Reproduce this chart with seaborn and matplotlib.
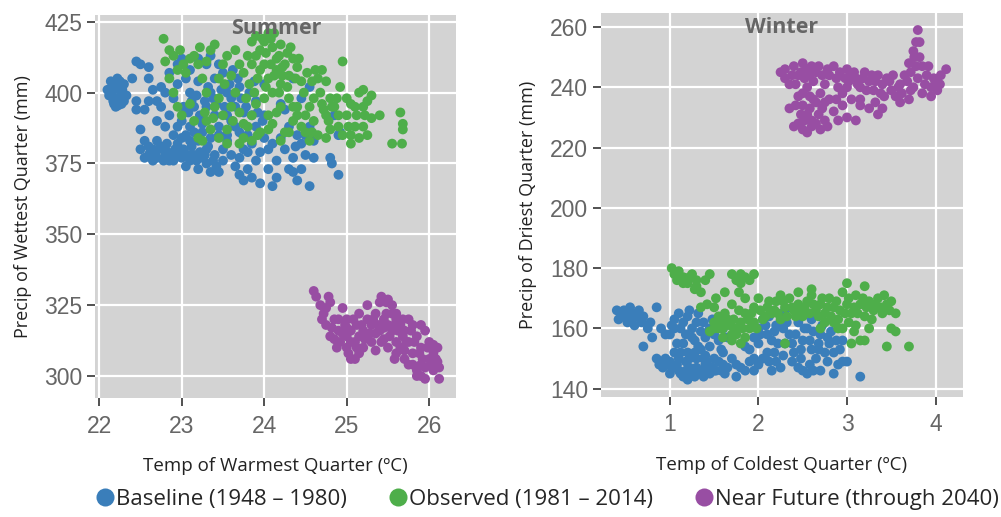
import seaborn as sns
import matplotlib.pyplot as plt
from matplotlib.lines import Line2D
import pandas as pd

series_names = ["Baseline (1948 – 1980)", "Observed (1981 – 2014)", "Near Future (through 2040)"]
series_colors = ["#3A7EBA", "#4EAE4A", "#984EA3"]

# summer: (temp of warmest quarter, precip of wettest quarter)
summer_baseline = [
    (22.15, 400), (22.2, 403), (22.25, 398), (22.18, 396), (22.22, 405), (22.28, 401), (22.12, 399),
    (22.3, 397), (22.2, 395), (22.25, 404), (22.16, 402), (22.27, 396),
    (22.1, 401), (22.14, 404), (22.2, 398), (22.24, 401), (22.3, 403), (22.17, 397), (22.23, 395.5), (22.33, 399),
    (22.4, 405), (22.45, 411), (22.5, 410), (22.45, 397), (22.45, 394), (22.5, 387), (22.6, 409),
    (22.6, 405), (22.65, 401), (22.55, 394), (22.6, 397), (22.55, 383), (22.5, 380), (22.6, 381), (22.55, 377),
    (22.6, 378), (22.65, 380), (22.7, 377), (22.75, 381), (22.8, 378), (22.85, 376), (22.9, 379),
    (22.95, 382), (22.7, 383), (22.8, 380), (22.65, 376), (22.9, 376), (23.0, 377), (23.05, 374),
    (23.1, 376), (23.15, 378), (23.2, 373), (23.25, 377), (23.3, 375), (23.35, 372),
    (22.62, 379), (22.68, 378), (22.72, 380), (22.78, 376), (22.82, 382), (22.88, 378), (22.92, 380),
    (22.98, 378), (23.02, 380), (23.08, 378), (23.12, 381), (23.18, 376), (23.22, 379), (23.28, 378),
    (23.32, 381), (23.38, 376), (23.42, 374), (23.45, 372),
    (22.8, 388), (22.85, 392), (22.9, 398), (22.95, 403), (22.85, 407), (22.95, 410), (23.0, 412),
    (23.05, 405), (23.1, 400), (23.0, 390), (23.05, 385), (23.1, 388), (23.15, 395), (23.2, 383),
    (23.25, 389), (23.3, 395), (23.35, 400), (23.4, 405), (23.45, 410), (23.5, 407), (23.4, 392),
    (23.45, 385), (23.5, 380), (23.3, 380), (23.4, 378), (23.5, 376), (23.55, 383), (23.6, 390),
    (23.65, 395), (23.7, 402), (23.6, 398), (23.55, 392), (23.6, 378), (23.65, 374), (23.7, 371),
    (23.75, 369), (23.8, 373), (23.85, 370), (23.9, 376), (23.95, 368), (24.1, 367), (24.15, 370),
    (23.02, 395), (23.08, 393), (23.12, 397), (23.18, 399), (23.22, 392), (23.28, 397), (23.32, 402),
    (23.38, 398), (23.42, 396), (23.48, 401), (23.52, 395), (23.58, 403), (23.62, 408), (23.68, 405),
    (23.72, 398), (23.78, 395), (23.82, 400), (23.88, 404), (23.92, 393), (23.98, 390), (23.1, 383),
    (23.15, 386), (23.25, 386), (23.35, 384), (23.45, 388), (23.55, 385), (23.65, 388), (23.75, 380),
    (23.85, 382), (23.95, 379), (24.0, 384), (24.1, 382), (22.7, 390), (22.75, 395), (22.8, 400),
    (22.75, 402), (22.7, 397), (22.9, 385), (22.95, 388), (23.0, 384),
    (23.8, 385), (23.85, 392), (23.9, 388), (24.0, 392), (24.05, 380), (24.2, 384), (24.3, 388),
    (24.35, 377), (24.3, 373), (24.35, 372), (24.4, 369), (24.45, 373), (24.5, 378), (24.55, 367),
    (24.5, 385), (24.55, 388), (24.45, 382), (24.6, 383), (24.35, 405), (24.45, 398), (24.55, 402),
    (24.25, 394), (24.2, 396), (24.0, 403), (23.9, 397), (24.8, 377), (24.82, 375), (24.9, 371),
    (24.9, 385), (24.92, 386), (24.85, 392), (23.2, 412), (23.3, 410), (23.35, 413), (23.1, 408),
    (23.2, 404), (23.55, 400), (23.75, 393), (23.7, 386),
    (24.25, 380), (24.4, 385), (24.38, 381), (24.6, 377), (24.15, 376), (24.05, 373), (23.7, 377), (23.8, 379),
]
summer_observed = [
    (22.78, 419), (22.85, 415), (22.8, 411), (22.9, 413), (22.95, 408), (22.85, 405), (22.9, 400),
    (22.95, 395), (23.0, 392), (23.05, 407), (23.1, 412), (23.15, 413), (23.2, 410), (23.25, 405),
    (23.3, 400), (23.35, 415), (23.4, 417), (23.3, 411),
    (23.2, 384), (23.25, 383), (23.3, 390), (23.35, 387), (23.4, 395), (23.45, 398), (23.5, 392),
    (23.55, 387), (23.6, 395), (23.65, 400), (23.7, 382), (23.75, 384), (23.8, 388), (23.85, 392),
    (23.9, 396), (23.5, 410), (23.55, 413), (23.6, 406), (23.65, 415), (23.7, 410), (23.75, 407),
    (23.8, 413), (23.85, 418), (23.9, 420), (23.95, 415),
    (24.0, 418), (24.05, 421), (24.1, 416), (24.15, 412), (24.2, 417), (24.0, 410), (24.05, 405),
    (24.1, 400), (24.15, 408), (24.2, 403), (24.25, 410), (24.3, 406), (24.35, 412), (24.4, 409),
    (24.45, 404), (24.0, 398), (24.05, 392), (23.95, 386), (24.1, 389), (24.2, 395), (24.3, 398),
    (24.4, 395), (24.35, 390), (24.3, 386), (24.5, 392), (24.55, 395), (24.6, 398), (24.65, 405),
    (24.7, 408), (24.75, 404), (24.8, 398), (24.85, 395), (24.9, 392), (24.95, 411), (24.7, 396),
    (24.75, 392), (24.6, 390), (24.5, 386), (24.55, 383), (24.65, 385), (24.75, 384), (24.8, 387),
    (23.85, 410), (23.9, 413), (23.95, 408), (23.98, 419), (24.02, 414), (24.08, 419), (24.12, 421),
    (24.18, 413), (24.22, 409), (24.28, 414), (24.32, 416), (24.38, 405), (24.42, 412), (24.08, 410),
    (24.12, 406), (24.18, 400), (24.22, 406), (24.28, 402), (24.02, 402), (23.92, 405), (23.88, 400),
    (23.82, 403), (23.78, 398), (24.48, 400), (24.52, 407), (24.58, 404), (24.62, 408), (24.68, 400),
    (24.72, 394), (24.78, 390), (24.82, 395), (24.88, 398), (24.92, 402), (24.58, 386), (24.45, 388),
    (24.4, 392), (24.35, 395), (24.15, 393), (24.05, 387), (23.92, 385), (23.85, 383), (23.75, 389),
    (23.7, 393), (23.62, 390), (23.55, 382), (23.45, 384), (23.38, 391), (23.28, 393), (23.15, 390),
    (23.1, 396), (22.98, 415), (23.02, 410), (23.22, 416), (23.45, 405), (23.52, 403),
    (24.9, 388), (25.0, 398), (25.05, 396), (25.0, 392), (25.05, 385), (25.05, 382), (25.1, 388),
    (25.15, 384), (25.2, 388), (25.2, 395), (25.15, 400), (25.2, 401), (25.3, 399), (25.25, 385),
    (25.3, 391), (25.4, 392), (25.65, 393), (25.68, 389), (25.68, 387), (25.55, 382), (25.67, 382),
    (24.2, 383), (24.25, 386), (25.1, 395), (25.12, 392), (25.22, 392), (25.25, 397), (25.02, 388),
    (24.95, 385),
]
summer_future = [
    (24.6, 330), (24.63, 328), (24.68, 325), (24.72, 322), (24.78, 328), (24.8, 326), (24.75, 318),
    (24.8, 314), (24.85, 320), (24.9, 316), (24.92, 312), (24.95, 324), (24.98, 318), (25.0, 314),
    (25.0, 310), (25.05, 316), (25.1, 312), (25.1, 306), (25.12, 318), (25.15, 314), (25.2, 316),
    (25.2, 310), (25.25, 320), (25.3, 318), (25.3, 312), (25.35, 322), (25.4, 326), (25.4, 316),
    (25.42, 328), (25.45, 320), (25.45, 313), (25.5, 327), (25.5, 318), (25.5, 310), (25.55, 322),
    (25.55, 316), (25.58, 306), (25.6, 320), (25.6, 312), (25.65, 318), (25.65, 310), (25.7, 316),
    (25.7, 306), (25.75, 320), (25.75, 312), (25.75, 304), (25.8, 318), (25.8, 308), (25.85, 314),
    (25.85, 302), (25.9, 318), (25.9, 310), (25.9, 304), (25.95, 316), (25.95, 299), (26.0, 312),
    (26.0, 306), (26.05, 308), (26.05, 302), (26.1, 310), (26.12, 303), (26.12, 299), (25.85, 300),
    (25.0, 320), (25.25, 325), (25.35, 309), (25.15, 322), (24.88, 310),
    (24.7, 320), (24.75, 324), (24.82, 317), (24.85, 313), (24.9, 320), (24.95, 315), (25.0, 317),
    (25.05, 312), (25.08, 320), (25.12, 310), (25.18, 318), (25.22, 313), (25.28, 315), (25.32, 320),
    (25.38, 318), (25.42, 312), (25.48, 322), (25.52, 314), (25.58, 318), (25.62, 316), (25.68, 320),
    (25.72, 312), (25.78, 316), (25.82, 312), (25.88, 308), (25.92, 306), (25.98, 310), (26.02, 304),
    (26.08, 306), (25.95, 303), (25.9, 300), (25.8, 304), (25.7, 309), (25.6, 308), (25.45, 317),
    (25.35, 315), (25.55, 325), (25.48, 326), (25.6, 322), (25.68, 314), (26.1, 305), (26.05, 311),
    (25.02, 308), (25.05, 306), (25.15, 308),
]

# winter: (temp of coldest quarter, precip of driest quarter)
winter_baseline = [
    (0.4, 166), (0.45, 164), (0.5, 165), (0.55, 163), (0.6, 161), (0.65, 166), (0.55, 167), (0.7, 164),
    (0.75, 160), (0.8, 157), (0.85, 167), (0.7, 154), (0.9, 160), (0.95, 158), (0.85, 150), (0.9, 149),
    (0.95, 150), (0.42, 163), (0.48, 166), (0.52, 162), (0.58, 165), (0.62, 164), (0.68, 162), (0.78, 162),
    (1.0, 149), (1.05, 147), (1.1, 146), (1.15, 144), (1.2, 143), (1.25, 145), (1.3, 147), (1.35, 146),
    (1.4, 148), (1.45, 145), (1.5, 146), (1.0, 145), (1.1, 150), (1.2, 152), (1.3, 150), (1.05, 152),
    (1.15, 155), (1.25, 157), (1.35, 153), (1.4, 151), (1.45, 154), (1.5, 150), (1.55, 149), (1.6, 148),
    (1.65, 147), (0.88, 148), (0.92, 147), (0.98, 148), (1.02, 147), (1.08, 148), (1.12, 145), (1.18, 146),
    (1.22, 147), (1.28, 144), (1.32, 145), (1.38, 144), (1.42, 146), (1.48, 147), (1.52, 146), (1.58, 146),
    (1.62, 145), (1.12, 152), (1.18, 149), (1.22, 150), (1.28, 152), (1.32, 154), (1.38, 150), (1.42, 149),
    (1.0, 158), (1.05, 160), (1.05, 163), (1.1, 165), (1.15, 162), (1.2, 164), (1.25, 160), (1.3, 162),
    (1.35, 159), (1.4, 157), (1.45, 160), (1.5, 158), (1.55, 156), (1.6, 152),
    (1.08, 155), (1.02, 161), (1.12, 160), (1.18, 158), (1.22, 166), (1.28, 156), (1.32, 165), (1.38, 162),
    (1.48, 163), (1.55, 163), (1.6, 160), (1.65, 157), (1.58, 153),
    (1.7, 150), (1.75, 144), (1.8, 147), (1.85, 154), (1.9, 149), (1.95, 146), (2.0, 155), (2.0, 160),
    (2.05, 163), (2.1, 158), (2.1, 152), (2.15, 156), (2.2, 161), (2.2, 149), (2.25, 164), (2.3, 166),
    (2.3, 155), (2.35, 158), (2.4, 152), (2.45, 162), (2.45, 147), (2.5, 156), (2.5, 146), (2.55, 160),
    (2.6, 153), (2.6, 163), (2.65, 150), (2.7, 158), (2.7, 146), (2.75, 152), (2.8, 155), (2.85, 152),
    (2.9, 148), (2.85, 145), (2.95, 149), (2.95, 156), (3.15, 144), (2.05, 150), (1.95, 157), (2.15, 146),
    (2.02, 158), (2.08, 161), (2.12, 164), (2.18, 159), (2.22, 155), (2.28, 160), (2.32, 162), (2.38, 155),
    (2.42, 158), (2.48, 153), (2.52, 160), (2.58, 156), (2.62, 159), (2.68, 155), (2.72, 161), (2.78, 157),
    (2.82, 159), (2.88, 156), (2.92, 153), (2.18, 152), (2.28, 151), (2.38, 149), (2.48, 150), (2.58, 148),
    (2.68, 153), (2.78, 149), (2.25, 147), (2.12, 149), (2.0, 148), (1.9, 153), (1.85, 146), (1.75, 148),
    (1.95, 150), (2.62, 146), (2.55, 145), (3.0, 149),
]
winter_observed = [
    (1.02, 180), (1.05, 178), (1.08, 176), (1.1, 179), (1.15, 177), (1.2, 175), (1.25, 178), (1.3, 174),
    (1.35, 172), (1.4, 176), (1.45, 178), (1.35, 167), (1.42, 168), (1.3, 176), (1.22, 177), (1.15, 175),
    (1.28, 173),
    (1.7, 178), (1.75, 176), (1.8, 175), (1.85, 177), (1.9, 176), (1.95, 178), (1.8, 178),
    (1.45, 159), (1.5, 162), (1.55, 164), (1.6, 160), (1.65, 163), (1.7, 168), (1.75, 158), (1.8, 162),
    (1.85, 165), (1.9, 160), (1.95, 167), (2.0, 170), (2.05, 163), (2.1, 167), (2.15, 165), (2.2, 169),
    (2.25, 163), (2.3, 167), (2.35, 170), (2.4, 166), (2.45, 168), (2.5, 164), (2.55, 169), (2.6, 173),
    (2.65, 166), (2.7, 168), (2.75, 165), (2.8, 170), (2.85, 167), (2.9, 163), (2.95, 172), (3.0, 175),
    (3.0, 168), (3.05, 165), (3.1, 161), (3.1, 171), (3.15, 168), (3.2, 174), (3.2, 164), (3.25, 169),
    (3.3, 166), (3.35, 170), (3.4, 165), (3.45, 168), (3.5, 169), (3.55, 165), (3.55, 159), (3.5, 160),
    (3.45, 154), (3.7, 154), (3.2, 156), (3.15, 156), (3.05, 155), (2.9, 160), (2.7, 160), (1.7, 156),
    (1.8, 155), (1.6, 157), (1.55, 160), (2.3, 155), (1.95, 162), (2.45, 172), (1.5, 167), (1.85, 170),
    (1.5, 160), (1.58, 162), (1.62, 165), (1.68, 161), (1.72, 163), (1.78, 166), (1.82, 160), (1.88, 163),
    (1.92, 165), (1.98, 160), (2.02, 166), (2.08, 164), (2.12, 169), (2.18, 166), (2.22, 165), (2.28, 169),
    (2.32, 164), (2.38, 167), (2.42, 164), (2.48, 166), (2.52, 167), (2.58, 165), (2.62, 168), (2.68, 164),
    (2.72, 170), (2.78, 167), (2.82, 164), (2.88, 169), (2.92, 166), (2.98, 165), (3.02, 170), (3.08, 167),
    (3.12, 165), (3.18, 170), (3.22, 167), (3.28, 163), (3.32, 168), (3.38, 167), (3.42, 171), (3.48, 166),
    (3.02, 162), (2.95, 160), (3.08, 159), (2.85, 162), (2.75, 162), (1.7, 158), (1.85, 157), (1.75, 160),
    (1.62, 172), (1.52, 170), (3.25, 160), (2.6, 171), (2.25, 171), (1.78, 172),
]
winter_future = [
    (2.25, 245), (2.3, 243), (2.35, 241), (2.4, 247), (2.45, 244), (2.5, 248), (2.55, 246), (2.6, 247),
    (2.65, 245), (2.55, 240), (2.45, 237), (2.5, 234), (2.55, 231), (2.6, 229), (2.45, 228), (2.5, 226),
    (2.55, 225), (2.6, 227), (2.7, 226), (2.75, 229), (2.65, 235), (2.7, 238), (2.75, 241), (2.8, 244),
    (2.85, 247), (2.8, 236), (2.85, 232), (2.9, 229), (2.95, 234), (3.0, 230), (3.0, 240), (3.05, 244),
    (3.0, 246), (3.1, 243), (3.15, 240), (3.15, 236), (3.2, 245), (3.25, 242), (3.3, 239), (3.35, 231),
    (3.4, 233), (3.35, 244), (3.4, 241), (3.45, 243), (3.5, 239), (3.55, 237), (3.6, 241), (3.65, 244),
    (3.6, 235), (3.7, 248), (3.75, 252), (3.8, 259), (3.78, 255), (3.7, 236), (3.8, 243), (3.85, 247),
    (3.9, 244), (3.95, 240), (4.0, 242), (4.05, 241), (4.12, 246), (3.95, 237), (3.85, 238), (3.75, 240),
    (2.35, 233), (2.4, 227), (3.1, 229), (2.9, 240),
    (2.3, 246), (2.38, 244), (2.42, 241), (2.48, 245), (2.52, 243), (2.58, 244), (2.62, 242), (2.68, 247),
    (2.72, 244), (2.78, 246), (2.88, 243), (2.92, 245), (2.98, 243), (3.02, 242), (3.08, 245), (3.12, 241),
    (3.18, 243), (3.22, 239), (3.28, 244), (3.32, 242), (3.38, 238), (3.42, 237), (3.48, 242), (3.52, 244),
    (3.58, 240), (3.62, 238), (3.68, 242), (3.72, 245), (3.78, 247), (3.82, 250), (3.88, 241), (3.92, 247),
    (3.98, 243), (4.02, 239), (4.06, 244), (3.72, 239), (2.52, 229), (2.58, 233), (2.62, 236), (2.68, 231),
    (2.72, 233), (2.78, 227), (2.48, 231), (2.42, 234), (2.65, 228), (2.88, 236), (2.95, 238), (3.05, 236),
    (3.15, 234), (3.25, 233), (3.32, 235), (2.5, 238), (2.58, 237), (2.75, 235), (3.82, 255), (3.76, 250),
]


def make_df(groups):
    rows = []
    for name, pts in zip(series_names, groups):
        for t, p in pts:
            rows.append({"temp": t, "precip": p, "period": name})
    return pd.DataFrame(rows)


summer_df = make_df([summer_baseline, summer_observed, summer_future])
winter_df = make_df([winter_baseline, winter_observed, winter_future])

sns.set_theme(style="darkgrid", rc={"axes.facecolor": "#D3D3D3", "grid.color": "white",
                                    "grid.linewidth": 1.6})
plt.rcParams["font.family"] = ["Liberation Sans", "DejaVu Sans"]

fig = plt.figure(figsize=(10.01, 5.17), dpi=100)
ax1 = fig.add_axes([0.095, 0.23, 0.361, 0.741])
ax2 = fig.add_axes([0.600, 0.233, 0.362, 0.741])

palette = dict(zip(series_names, series_colors))
for ax, df in [(ax1, summer_df), (ax2, winter_df)]:
    sns.scatterplot(data=df, x="temp", y="precip", hue="period", palette=palette,
                    s=50, linewidth=0, legend=False, ax=ax)

ax1.set_xlim(21.95, 26.33)
ax1.set_ylim(292.2, 427.4)
ax1.set_xticks([22, 23, 24, 25, 26])
ax1.set_yticks([300, 325, 350, 375, 400, 425])
ax2.set_xlim(0.217, 4.31)
ax2.set_ylim(137.4, 264.5)
ax2.set_xticks([1, 2, 3, 4])
ax2.set_yticks([140, 160, 180, 200, 220, 240, 260])

labels = [("Summer", "Temp of Warmest Quarter (ºC)", "Precip of Wettest Quarter (mm)"),
          ("Winter", "Temp of Coldest Quarter (ºC)", "Precip of Driest Quarter (mm)")]
for ax, (title, xl, yl) in zip([ax1, ax2], labels):
    for s in ax.spines.values():
        s.set_visible(False)
    ax.tick_params(axis="both", length=6, width=1.2, color="#333333", labelsize=16.5,
                   labelcolor="#666666", pad=3, bottom=True, left=True)
    ax.tick_params(axis="x", pad=6)
    ax.set_xlabel(xl, fontsize=13.5, family=["Open Sans", "DejaVu Sans"], color="#222222", labelpad=14)
    ax.set_ylabel(yl, fontsize=13, family=["Open Sans", "DejaVu Sans"], color="#222222", labelpad=9)
    ax.text(0.5, 0.992, title, transform=ax.transAxes, ha="center", va="top",
            fontsize=15.5, fontweight="bold", color="#666666", family=["Open Sans", "DejaVu Sans"])

handles = [Line2D([], [], marker="o", linestyle="", markersize=13, color=c,
                  markeredgewidth=0) for c in series_colors]
fig.legend(handles, series_names, loc="lower center", bbox_to_anchor=(0.546, -0.025), ncol=3,
           frameon=False, handletextpad=0.0, columnspacing=1.8, handlelength=1.0,
           prop={"family": ["Open Sans", "DejaVu Sans"], "size": 16})

fig.savefig("out.png", dpi=100)
